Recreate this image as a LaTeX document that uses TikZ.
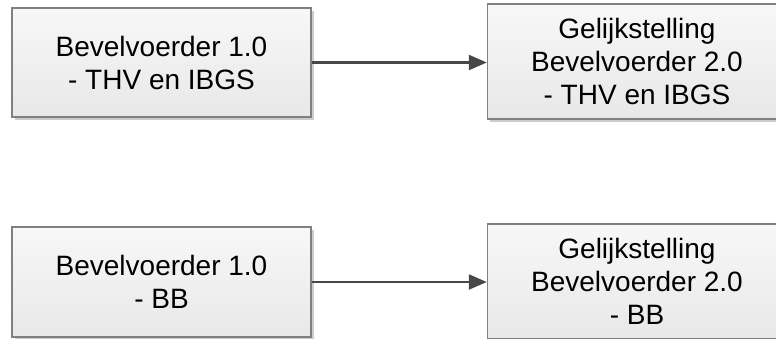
\documentclass[tikz,border=0pt]{standalone}
\usepackage{fontspec}
\setmainfont{Liberation Sans}
\usetikzlibrary{shadows,arrows.meta}

\begin{document}
\begin{tikzpicture}[x=1pt, y=-1pt,
    blok/.style={draw=black!50, line width=1.4pt, top color=white!97!black, bottom color=white!91!black,
      minimum width=299pt, align=center, inner sep=0pt, font=\fontsize{28}{33}\selectfont,
      drop shadow={shadow xshift=2.5pt, shadow yshift=-2.5pt, fill=black!20, opacity=1}},
    pijl/.style={-{Triangle[length=18pt,width=15pt]}, draw=black!72, fill=black!72, line width=2.2pt}
  ]
  \useasboundingbox (0,0) rectangle (776,338);
  \clip (0,0) rectangle (776,338);
  % bovenste rij
  \node[blok, minimum height=109pt] (bv1thv) at (161.5,62.5) {Bevelvoerder 1.0\\- THV en IBGS};
  \node[blok, minimum height=115pt] (gs2thv) at (637,61.5) {Gelijkstelling\\Bevelvoerder 2.0\\- THV en IBGS};
  % onderste rij
  \node[blok, minimum height=110pt] (bv1bb) at (161.5,282) {Bevelvoerder 1.0\\- BB};
  \node[blok, minimum height=115pt] (gs2bb) at (637,281.5) {Gelijkstelling\\Bevelvoerder 2.0\\- BB};
  \draw[pijl] (bv1thv.east) -- (bv1thv.east -| gs2thv.west);
  \draw[pijl] (bv1bb.east) -- (bv1bb.east -| gs2bb.west);
\end{tikzpicture}
\end{document}
